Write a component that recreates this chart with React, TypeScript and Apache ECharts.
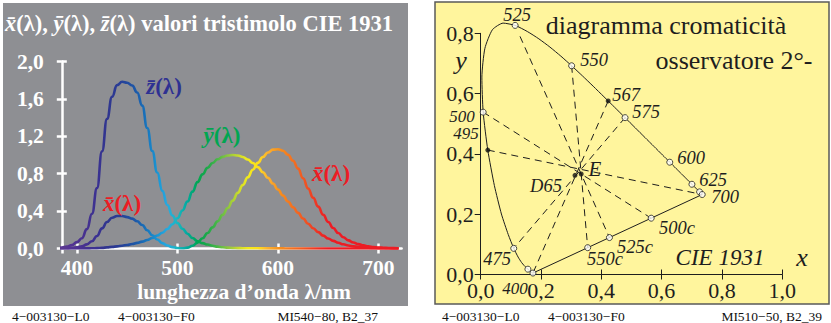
import React, { useEffect, useRef } from "react";
import * as echarts from "echarts";

// ---------- Left panel: CIE 1931 colour matching functions ----------
const wavelengths = [
  380, 385, 390, 395, 400, 405, 410, 415, 420, 425, 430, 435, 440, 445, 450, 455, 460, 465, 470, 475,
  480, 485, 490, 495, 500, 505, 510, 515, 520, 525, 530, 535, 540, 545, 550, 555, 560, 565, 570, 575,
  580, 585, 590, 595, 600, 605, 610, 615, 620, 625, 630, 635, 640, 645, 650, 655, 660, 665, 670, 675,
  680, 685, 690, 695, 700, 705, 710, 715, 720,
];
const xBar = [
  0.001, 0.002, 0.004, 0.008, 0.014, 0.023, 0.044, 0.078, 0.134, 0.215, 0.284, 0.329, 0.348, 0.348, 0.336, 0.319, 0.291, 0.251, 0.195, 0.142,
  0.096, 0.058, 0.032, 0.015, 0.005, 0.002, 0.009, 0.029, 0.063, 0.110, 0.166, 0.226, 0.290, 0.360, 0.433, 0.512, 0.595, 0.678, 0.762, 0.843,
  0.916, 0.979, 1.026, 1.057, 1.062, 1.046, 1.003, 0.938, 0.854, 0.751, 0.642, 0.542, 0.448, 0.361, 0.284, 0.219, 0.165, 0.121, 0.087, 0.064,
  0.047, 0.033, 0.023, 0.016, 0.011, 0.008, 0.006, 0.004, 0.003,
];
const yBar = [
  0.000, 0.000, 0.000, 0.000, 0.000, 0.001, 0.001, 0.002, 0.004, 0.007, 0.012, 0.017, 0.023, 0.030, 0.038, 0.048, 0.060, 0.074, 0.091, 0.113,
  0.139, 0.169, 0.208, 0.259, 0.323, 0.407, 0.503, 0.608, 0.710, 0.793, 0.862, 0.915, 0.954, 0.980, 0.995, 1.000, 0.995, 0.979, 0.952, 0.915,
  0.870, 0.816, 0.757, 0.695, 0.631, 0.567, 0.503, 0.441, 0.381, 0.321, 0.265, 0.217, 0.175, 0.138, 0.107, 0.082, 0.061, 0.045, 0.032, 0.023,
  0.017, 0.012, 0.008, 0.006, 0.004, 0.003, 0.002, 0.001, 0.001,
];
const zBar = [
  0.006, 0.011, 0.020, 0.036, 0.068, 0.110, 0.207, 0.371, 0.646, 1.039, 1.386, 1.623, 1.747, 1.783, 1.772, 1.744, 1.669, 1.528, 1.288, 1.042,
  0.813, 0.616, 0.465, 0.353, 0.272, 0.212, 0.158, 0.112, 0.078, 0.057, 0.042, 0.030, 0.020, 0.013, 0.009, 0.006, 0.004, 0.003, 0.002, 0.002,
  0.002, 0.001, 0.001, 0.001, 0.001, 0.001, 0.000, 0.000, 0.000, 0.000, 0.000, 0.000, 0.000, 0.000, 0.000, 0.000, 0.000, 0.000, 0.000, 0.000,
  0.000, 0.000, 0.000, 0.000, 0.000, 0.000, 0.000, 0.000, 0.000,
];
const leftXTicks = [385, 400, 500, 600, 700];
const leftXLabels = [400, 500, 600, 700];

// ---------- Right panel: chromaticity diagram ----------
const locusNm = [
  380, 390, 400, 410, 420, 430, 440, 445, 450, 455, 460, 465, 470, 475, 480, 485, 490, 495, 500, 505,
  510, 515, 520, 525, 530, 535, 540, 545, 550, 555, 560, 565, 570, 575, 580, 585, 590, 595, 600, 605,
  610, 615, 620, 625, 630, 640, 650, 660, 680, 700,
];
const locusX = [
  0.1741, 0.1738, 0.1733, 0.1726, 0.1714, 0.1689, 0.1644, 0.1611, 0.1566, 0.1510, 0.1440, 0.1355, 0.1241, 0.1096, 0.0913, 0.0687, 0.0454, 0.0235, 0.0082, 0.0039,
  0.0139, 0.0389, 0.0743, 0.1142, 0.1547, 0.1929, 0.2296, 0.2658, 0.3016, 0.3373, 0.3731, 0.4087, 0.4441, 0.4788, 0.5125, 0.5448, 0.5752, 0.6029, 0.6270, 0.6482,
  0.6658, 0.6801, 0.6915, 0.7006, 0.7079, 0.7190, 0.7260, 0.7300, 0.7334, 0.7347,
];
const locusY = [
  0.0050, 0.0049, 0.0048, 0.0048, 0.0051, 0.0069, 0.0109, 0.0138, 0.0177, 0.0227, 0.0297, 0.0399, 0.0578, 0.0868, 0.1327, 0.2007, 0.2950, 0.4127, 0.5384, 0.6548,
  0.7502, 0.8120, 0.8338, 0.8262, 0.8059, 0.7816, 0.7543, 0.7243, 0.6923, 0.6589, 0.6245, 0.5896, 0.5547, 0.5202, 0.4866, 0.4544, 0.4242, 0.3965, 0.3725, 0.3514,
  0.3340, 0.3197, 0.3083, 0.2993, 0.2920, 0.2809, 0.2740, 0.2700, 0.2666, 0.2653,
];
const openMarkNm = [400, 450, 475, 500, 525, 550, 575, 600, 625, 650, 700];
const dotMarks = [
  { name: "495", x: 0.0235, y: 0.4127 },
  { name: "567", x: 0.4229, y: 0.5756 },
  { name: "E", x: 0.3333, y: 0.3333 },
  { name: "D65", x: 0.3127, y: 0.329 },
];
const purpleMarks = [
  { name: "500c", x: 0.5655, y: 0.1868 },
  { name: "525c", x: 0.427, y: 0.1225 },
  { name: "550c", x: 0.3549, y: 0.089 },
];
const dashedPairs: [string, string][] = [
  ["525", "525c"],
  ["550", "550c"],
  ["500", "500c"],
  ["575", "475"],
  ["567", "400"],
  ["495", "700"],
];
const rightXTicks = [0, 0.2, 0.4, 0.6, 0.8, 1.0];

const spectrum = [
  "#5e3a93", "#573592", "#4e3192", "#44318f", "#3a3192", "#30368f", "#2b3b94", "#22499e", "#1c5cab", "#1877be",
  "#1b95d3", "#27aae1", "#1ab7c0", "#00a99d", "#00a651", "#1fa84a", "#4cb848", "#8dc63f", "#c6d92e", "#f2ea1d",
  "#fde01a", "#fbb031", "#f7941d", "#f47b20", "#f26522", "#ef4d23", "#ed3024", "#ed1c24", "#ed1c24", "#ed1c24",
  "#ed1c24", "#ed1c24", "#ed1c24", "#ed1c24", "#ed1c24",
];

const SERIF = "Liberation Serif";
const fmt = (v: number) => v.toFixed(1).replace(".", ",");

function locusPoint(nm: number): [number, number] {
  const i = locusNm.indexOf(nm);
  return [locusX[i], locusY[i]];
}
function namedPoint(name: string): [number, number] {
  const d = dotMarks.find((p) => p.name === name);
  if (d) return [d.x, d.y];
  const p = purpleMarks.find((q) => q.name === name);
  if (p) return [p.x, p.y];
  return locusPoint(Number(name));
}

export default function App() {
  const ref = useRef<HTMLDivElement>(null);
  useEffect(() => {
    if (!ref.current) return;
    const chart = echarts.init(ref.current, undefined, { renderer: "svg" });

    const white = "#ffffff";
    const ink = "#1e1e1e";
    const whiteLabel = { color: white, fontFamily: SERIF, fontWeight: "bold" as const, fontSize: 21.5 };
    const inkLabel = { color: ink, fontFamily: SERIF, fontSize: 22 };

    const txt = (x: number, y: number, text: string, extra: any = {}, z = 10) => ({
      type: "text",
      x,
      y,
      z,
      style: {
        text,
        fill: ink,
        fontFamily: SERIF,
        fontSize: 18.5,
        fontStyle: "italic",
        align: "center",
        verticalAlign: "middle",
        ...extra,
      },
    });
    const footer = (x: number, text: string, align: string) =>
      txt(x, 316, text, { align, fontStyle: "normal", fontSize: 13.5, fill: "#111" });
    const curveLabel = (x: number, y: number, letter: string, color: string) =>
      txt(x, y, `{a|${letter}\u0304}{b|(λ)}`, {
        fill: color,
        rich: {
          a: { fill: color, fontFamily: SERIF, fontSize: 23, fontStyle: "italic", fontWeight: "bold" },
          b: { fill: color, fontFamily: SERIF, fontSize: 23, fontWeight: "bold", fontStyle: "normal" },
        },
      });

    const option: any = {
      animation: false,
      grid: [
        { left: 61.8, top: 61.5, width: 339.8, height: 187, containLabel: false },
        { left: 480.7, top: 33.3, width: 301.5, height: 241.2, containLabel: false },
      ],
      xAxis: [
        {
          gridIndex: 0,
          type: "value",
          min: 385,
          max: 723,
          axisLine: { show: true, lineStyle: { color: white, width: 2.5 } },
          axisTick: { show: true, customValues: leftXTicks, length: 5, lineStyle: { color: white, width: 2.5 } },
          axisLabel: { customValues: leftXLabels, margin: 8, ...whiteLabel },
          splitLine: { show: false },
        },
        {
          gridIndex: 0,
          type: "value",
          min: 385,
          max: 723,
          position: "bottom",
          axisLine: { show: false },
          axisTick: { show: true, inside: true, customValues: leftXTicks, length: 5, lineStyle: { color: white, width: 2.5 } },
          axisLabel: { show: false },
          splitLine: { show: false },
        },
        {
          gridIndex: 1,
          type: "value",
          min: 0,
          max: 1,
          interval: 0.2,
          axisLine: { show: true, lineStyle: { color: ink, width: 1 } },
          axisTick: { show: true, customValues: rightXTicks, length: 5, lineStyle: { color: ink, width: 1 } },
          axisLabel: { margin: 5, formatter: fmt, ...inkLabel },
          splitLine: { show: false },
        },
        {
          gridIndex: 1,
          type: "value",
          min: 0,
          max: 1,
          interval: 0.2,
          position: "bottom",
          axisLine: { show: false },
          axisTick: { show: true, inside: true, length: 5, lineStyle: { color: ink, width: 1 } },
          axisLabel: { show: false },
          splitLine: { show: false },
        },
      ],
      yAxis: [
        {
          gridIndex: 0,
          type: "value",
          min: 0,
          max: 2,
          interval: 0.4,
          axisLine: { show: true, lineStyle: { color: white, width: 2.5 } },
          axisTick: { show: true, length: 5, lineStyle: { color: white, width: 2.5 } },
          axisLabel: { margin: 18, formatter: fmt, ...whiteLabel },
          splitLine: { show: false },
        },
        {
          gridIndex: 0,
          type: "value",
          min: 0,
          max: 2,
          interval: 0.4,
          position: "left",
          axisLine: { show: false },
          axisTick: { show: true, inside: true, length: 5, lineStyle: { color: white, width: 2.5 } },
          axisLabel: { show: false },
          splitLine: { show: false },
        },
        {
          gridIndex: 1,
          type: "value",
          min: 0,
          max: 0.8,
          interval: 0.2,
          axisLine: { show: true, lineStyle: { color: ink, width: 1 } },
          axisTick: { show: true, length: 6, lineStyle: { color: ink, width: 1 } },
          axisLabel: { margin: 7, formatter: fmt, ...inkLabel },
          splitLine: { show: false },
        },
      ],
      visualMap: [
        {
          type: "continuous",
          show: false,
          dimension: 0,
          seriesIndex: [0, 1, 2],
          min: 380,
          max: 720,
          inRange: { color: spectrum },
        },
      ],
      series: [
        {
          name: "z",
          type: "line",
          xAxisIndex: 0,
          yAxisIndex: 0,
          data: wavelengths.map((w, i) => [w, zBar[i]]),
          showSymbol: false,
          smooth: true,
          smoothMonotone: "x",
          lineStyle: { width: 2.6 },
        },
        {
          name: "y",
          type: "line",
          xAxisIndex: 0,
          yAxisIndex: 0,
          data: wavelengths.map((w, i) => [w, yBar[i]]),
          showSymbol: false,
          smooth: true,
          smoothMonotone: "x",
          lineStyle: { width: 2.6 },
        },
        {
          name: "x",
          type: "line",
          xAxisIndex: 0,
          yAxisIndex: 0,
          data: wavelengths.map((w, i) => [w, xBar[i]]),
          showSymbol: false,
          smooth: true,
          smoothMonotone: "x",
          lineStyle: { width: 2.6 },
        },
        {
          name: "locus",
          type: "line",
          xAxisIndex: 2,
          yAxisIndex: 2,
          data: locusNm.map((w, i) => [locusX[i], locusY[i]]),
          showSymbol: false,
          smooth: 0.2,
          clip: false,
          lineStyle: { color: ink, width: 1 },
          z: 3,
        },
        {
          name: "purple",
          type: "line",
          xAxisIndex: 2,
          yAxisIndex: 2,
          data: [locusPoint(700), locusPoint(400)],
          showSymbol: false,
          clip: false,
          lineStyle: { color: ink, width: 1 },
          z: 3,
        },
        {
          name: "dashed",
          type: "lines",
          coordinateSystem: "cartesian2d",
          xAxisIndex: 2,
          yAxisIndex: 2,
          data: dashedPairs.map(([a, b]) => ({ coords: [namedPoint(a), namedPoint(b)] })),
          lineStyle: { color: ink, width: 1, type: [7, 5], opacity: 1 },
          z: 2,
        },
        {
          name: "open",
          type: "scatter",
          xAxisIndex: 2,
          yAxisIndex: 2,
          data: [
            ...openMarkNm.map((w) => locusPoint(w)),
            ...purpleMarks.map((p) => [p.x, p.y]),
          ],
          symbol: "circle",
          symbolSize: 6,
          clip: false,
          itemStyle: { color: "#ffffff", borderColor: ink, borderWidth: 1 },
          z: 5,
        },
        {
          name: "dots",
          type: "scatter",
          xAxisIndex: 2,
          yAxisIndex: 2,
          data: dotMarks.map((p) => [p.x, p.y]),
          symbol: "circle",
          symbolSize: 5,
          itemStyle: { color: "#111111" },
          z: 5,
        },
      ],
      graphic: {
        elements: [
          { type: "rect", z: -10, shape: { x: 3, y: 3, width: 405, height: 303 }, style: { fill: "#8e8f93" } },
          {
            type: "rect",
            z: -10,
            shape: { x: 435, y: 2, width: 394, height: 302 },
            style: { fill: "#fff59d", stroke: "#5a5a5a", lineWidth: 1.5 },
          },
          // left title
          txt(5, 23, "{i|x\u0304}{n|(λ), }{i|y\u0304}{n|(λ), }{i|z\u0304}{n|(λ) }{b|valori tristimolo CIE 1931}", {
            align: "left",
            fill: white,
            rich: {
              i: { fill: white, fontFamily: SERIF, fontSize: 22.5, fontStyle: "italic", fontWeight: "bold" },
              n: { fill: white, fontFamily: SERIF, fontSize: 22.5, fontStyle: "normal", fontWeight: "bold" },
              b: { fill: white, fontFamily: SERIF, fontSize: 22.5, fontStyle: "normal", fontWeight: "bold" },
            },
          }),
          curveLabel(164, 86, "z", "#2e3192"),
          curveLabel(122, 203, "x", "#ed1c24"),
          curveLabel(222, 135, "y", "#00a651"),
          curveLabel(331, 173, "x", "#ed1c24"),
          txt(244, 292, "lunghezza d\u2019onda λ/nm", { fill: white, fontStyle: "normal", fontWeight: "bold", fontSize: 21.5 }),
          // footers
          footer(12, "4\u2212003130\u2212L0", "left"),
          footer(118, "4\u2212003130\u2212F0", "left"),
          footer(378, "MI540\u221280, B2_37", "right"),
          footer(442, "4\u2212003130\u2212L0", "left"),
          footer(548, "4\u2212003130\u2212F0", "left"),
          footer(822, "MI510\u221250, B2_39", "right"),
          // right titles
          txt(666, 25, "diagramma cromaticità", { fontStyle: "normal", fontSize: 26 }),
          txt(734, 60, "osservatore 2°-", { fontStyle: "normal", fontSize: 26 }),
          txt(461, 60, "y", { fontSize: 26 }),
          txt(802, 257, "x", { fontSize: 26 }),
          txt(720, 257, "CIE 1931", { fontSize: 23 }),
          // wavelength labels
          txt(517, 15, "525"),
          txt(594, 60, "550"),
          txt(626, 95, "567"),
          txt(646, 112, "575"),
          txt(691, 158, "600"),
          txt(713, 180, "625"),
          txt(725, 197, "700"),
          txt(677, 228, "500c"),
          txt(635, 247, "525c"),
          txt(605, 259, "550c"),
          txt(497, 259, "475"),
          txt(515, 288, "400", { fontSize: 17 }),
          txt(462, 116, "500", { fontSize: 17 }),
          txt(466, 133, "495", { fontSize: 17 }),
          txt(595, 169, "E", { fontSize: 21 }),
          txt(546, 186, "D65"),
        ],
      },
    };

    chart.setOption(option);
    return () => chart.dispose();
  }, []);

  return (
    <div
      ref={ref}
      style={{ position: "absolute", left: 0, top: 0, width: 831, height: 323, background: "#ffffff" }}
    />
  );
}
